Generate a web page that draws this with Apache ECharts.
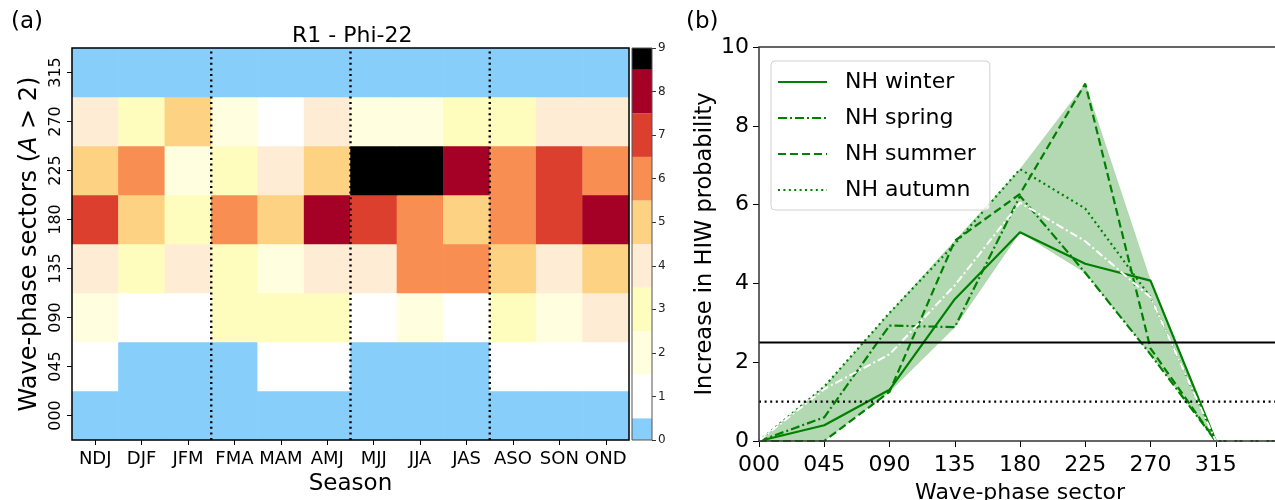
<!DOCTYPE html>
<html>
<head>
<meta charset="utf-8">
<script src="https://cdn.jsdelivr.net/npm/echarts@6.0.0/dist/echarts.min.js"></script>
<style>
  html, body { margin: 0; padding: 0; background: #fff; }
  #chart { width: 1275px; height: 500px; }
</style>
</head>
<body>
<div id="chart"></div>
<script>
// ---- panel (a): number of significant cases per wave-phase sector and season ----
const seasons = ['NDJ', 'DJF', 'JFM', 'FMA', 'MAM', 'AMJ', 'MJJ', 'JJA', 'JAS', 'ASO', 'SON', 'OND'];
const sectorLabels = ['000', '045', '090', '135', '180', '225', '270', '315'];
const row000 = [0, 0, 0, 0, 0, 0, 0, 0, 0, 0, 0, 0];
const row045 = [1, 0, 0, 0, 1, 1, 0, 0, 0, 1, 1, 1];
const row090 = [2, 1, 1, 3, 3, 3, 1, 2, 1, 3, 2, 4];
const row135 = [4, 3, 4, 3, 2, 4, 4, 6, 6, 5, 4, 5];
const row180 = [7, 5, 3, 6, 5, 8, 7, 6, 5, 6, 7, 8];
const row225 = [5, 6, 2, 3, 4, 5, 9, 9, 8, 6, 7, 6];
const row270 = [4, 3, 5, 2, 1, 4, 2, 2, 3, 3, 4, 4];
const row315 = [0, 0, 0, 0, 0, 0, 0, 0, 0, 0, 0, 0];
const heatRows = [row000, row045, row090, row135, row180, row225, row270, row315];
// season group separators (column boundaries)
const dividerCols = [3, 6, 9];
// discrete colour scale 0..9
const levelColors = ['#87cefa', '#ffffff', '#ffffe0', '#fefdbd', '#feecd5',
                     '#fdd283', '#f88e52', '#dd3f2e', '#a50026', '#000000'];
const colorbarBounds = [0, 0.5, 1.5, 2.5, 3.5, 4.5, 5.5, 6.5, 7.5, 8.5, 9];

// ---- panel (b): increase in HIW probability per wave-phase sector ----
const phaseDeg = [0, 45, 90, 135, 180, 225, 270, 315, 360];
const nhWinter = [0, 0.40, 1.30, 3.60, 5.30, 4.50, 4.07, 0, 0];
const nhSpring = [0, 0.60, 2.93, 2.89, 6.22, 4.27, 2.20, 0, 0];
const nhSummer = [0, 0.00, 1.25, 5.08, 6.27, 9.07, 2.35, 0, 0];
const nhAutumn = [0, 1.38, 3.25, 5.00, 6.90, 5.90, 3.65, 0, 0];
const allSeasons = [0, 1.32, 2.20, 3.95, 6.05, 5.07, 3.65, 0, 0];
const thresholdSolid = 2.5;
const thresholdDotted = 1.0;

const FONT = 'DejaVu Sans';
const GREEN = '#008000';

const heatData = [];
heatRows.forEach((row, yi) => row.forEach((v, xi) => heatData.push([xi, yi, v])));

const seasonLines = [nhWinter, nhSpring, nhSummer, nhAutumn];
const bandLow = phaseDeg.map((_, i) => Math.min(...seasonLines.map(s => s[i])));
const bandHigh = phaseDeg.map((_, i) => Math.max(...seasonLines.map(s => s[i])));
const pairs = arr => phaseDeg.map((x, i) => [x, arr[i]]);

const chart = echarts.init(document.getElementById('chart'), null, { renderer: 'canvas' });

const series = [];
// heatmap
series.push({
  type: 'heatmap', xAxisIndex: 0, yAxisIndex: 0, data: heatData,
  itemStyle: { borderWidth: 0 }, emphasis: { disabled: true }
});
// season group separators
dividerCols.forEach(c => series.push({
  type: 'line', xAxisIndex: 1, yAxisIndex: 1, data: [[c, 0], [c, sectorLabels.length]],
  symbol: 'none', silent: true, z: 4,
  lineStyle: { color: '#000', width: 2.4, type: [2, 3.6] }
}));
// colour bar
colorbarBounds.slice(1).forEach((hi, i) => series.push({
  type: 'bar', xAxisIndex: 2, yAxisIndex: 2, stack: 'cb',
  data: [hi - colorbarBounds[i]], barWidth: '100%', silent: true,
  itemStyle: { color: levelColors[i] }
}));
// envelope of the four seasons
series.push({
  type: 'custom', xAxisIndex: 3, yAxisIndex: 3, data: [[0, 0]], silent: true, z: 1,
  renderItem: (params, api) => {
    const upper = phaseDeg.map((x, i) => api.coord([x, bandHigh[i]]));
    const lower = phaseDeg.map((x, i) => api.coord([x, bandLow[i]])).reverse();
    return {
      type: 'polygon',
      shape: { points: upper.concat(lower) },
      style: { fill: 'rgba(0,128,0,0.30)', stroke: 'rgba(0,128,0,0.12)', lineWidth: 1 }
    };
  }
});
const lineDefs = [
  ['NH winter', nhWinter, 'solid'],
  ['NH spring', nhSpring, [9, 3, 2, 3]],
  ['NH summer', nhSummer, [8, 4]],
  ['NH autumn', nhAutumn, [2, 3.4]]
];
lineDefs.forEach(([name, vals, dash]) => series.push({
  name, type: 'line', xAxisIndex: 3, yAxisIndex: 3, data: pairs(vals),
  symbol: 'none', z: 3,
  lineStyle: { color: GREEN, width: 2.2, type: dash },
  itemStyle: { color: GREEN }
}));
series.push({
  type: 'line', xAxisIndex: 3, yAxisIndex: 3, data: pairs(allSeasons),
  symbol: 'none', z: 3, silent: true,
  lineStyle: { color: '#ffffff', width: 2, type: [8, 3, 2, 3] }
});
series.push({
  type: 'line', xAxisIndex: 3, yAxisIndex: 3,
  data: [[0, thresholdSolid], [360, thresholdSolid]], symbol: 'none', z: 4, silent: true,
  lineStyle: { color: '#000', width: 2.2 }
});
series.push({
  type: 'line', xAxisIndex: 3, yAxisIndex: 3,
  data: [[0, thresholdDotted], [360, thresholdDotted]], symbol: 'none', z: 4, silent: true,
  lineStyle: { color: '#000', width: 2.2, type: [2, 3.6] }
});

const tickStyle = { show: true, length: 5, lineStyle: { color: '#000', width: 1 } };

chart.setOption({
  animation: false,
  textStyle: { fontFamily: FONT },
  title: [
    { text: '(a)', left: 6, top: 6, textStyle: { fontFamily: FONT, fontSize: 23, fontWeight: 'normal', color: '#000' } },
    { text: 'R1 - Phi-22', left: 287, top: 20, textStyle: { fontFamily: FONT, fontSize: 22, fontWeight: 'normal', color: '#000' } },
    { text: '(b)', left: 681, top: 6, textStyle: { fontFamily: FONT, fontSize: 23, fontWeight: 'normal', color: '#000' } }
  ],
  grid: [
    { left: 72, top: 48, width: 557, height: 392, show: true, borderColor: '#000', borderWidth: 1.5, z: 6, outerBoundsMode: 'none' },
    { left: 632, top: 48, width: 20, height: 392, show: true, borderColor: '#555', borderWidth: 1, z: 6, outerBoundsMode: 'none' },
    { left: 759, top: 47, right: -6, height: 394, show: true, borderColor: '#333', borderWidth: 1.5, z: 6, outerBoundsMode: 'none' }
  ],
  visualMap: {
    show: false, type: 'piecewise', seriesIndex: 0, dimension: 2,
    pieces: levelColors.map((c, i) => ({ value: i, color: c }))
  },
  legend: {
    data: lineDefs.map(d => d[0]), orient: 'vertical', left: 771, top: 61,
    padding: [8, 14, 7, 6], itemGap: 10, itemWidth: 49, itemHeight: 14,
    itemStyle: { opacity: 0 },
    backgroundColor: 'rgba(255,255,255,0.85)', borderColor: '#d0d0d0', borderWidth: 1, borderRadius: 4,
    textStyle: { fontFamily: FONT, fontSize: 22, color: '#000', lineHeight: 26, padding: [0, 0, 0, 13] },
    selectedMode: false
  },
  xAxis: [
    {
      type: 'category', gridIndex: 0, data: seasons, position: 'bottom',
      axisLine: { show: false }, axisTick: Object.assign({ alignWithLabel: true }, tickStyle),
      axisLabel: { fontSize: 18, color: '#000', margin: 10, interval: 0 },
      name: 'Season', nameLocation: 'middle', nameGap: 32,
      nameTextStyle: { fontSize: 23, color: '#000' }
    },
    { type: 'value', gridIndex: 0, min: 0, max: seasons.length, show: false },
    { type: 'category', gridIndex: 1, data: [''], show: false },
    {
      type: 'value', gridIndex: 2, min: 0, max: 360, interval: 45,
      axisLine: { show: false }, axisTick: Object.assign({}, tickStyle, { length: 6 }),
      splitLine: { show: false }, showMaxLabel: false,
      axisLabel: {
        fontSize: 22, color: '#000', margin: 13,
        formatter: v => (v >= 360 ? '' : String(v).padStart(3, '0'))
      },
      name: 'Wave-phase sector', nameLocation: 'middle', nameGap: 41,
      nameTextStyle: { fontSize: 22, color: '#000' }
    }
  ],
  yAxis: [
    {
      type: 'category', gridIndex: 0, data: sectorLabels,
      axisLine: { show: false }, axisTick: Object.assign({ alignWithLabel: true }, tickStyle),
      axisLabel: { fontSize: 16, color: '#000', rotate: 90, margin: 8, interval: 0 },
      name: 'Wave-phase sectors ({i|A} > 2)', nameLocation: 'middle', nameRotate: 90, nameGap: 30,
      nameTextStyle: { fontSize: 24, color: '#000', rich: { i: { fontSize: 24, fontStyle: 'italic', fontFamily: FONT } } }
    },
    { type: 'value', gridIndex: 0, min: 0, max: sectorLabels.length, show: false },
    {
      type: 'value', gridIndex: 1, position: 'right', min: 0, max: 9, interval: 1,
      axisLine: { show: false }, axisTick: { show: true, length: 4, lineStyle: { color: '#333' } },
      splitLine: { show: false },
      axisLabel: { fontSize: 12, color: '#222', margin: 6 }
    },
    {
      type: 'value', gridIndex: 2, min: 0, max: 10, interval: 2,
      axisLine: { show: false }, axisTick: Object.assign({}, tickStyle, { length: 6 }),
      splitLine: { show: false },
      axisLabel: { fontSize: 22, color: '#000', margin: 10 },
      name: 'Increase in HIW probability', nameLocation: 'middle', nameRotate: 90, nameGap: 42,
      nameTextStyle: { fontSize: 22.5, color: '#000' }
    }
  ],
  series
});
</script>
</body>
</html>
